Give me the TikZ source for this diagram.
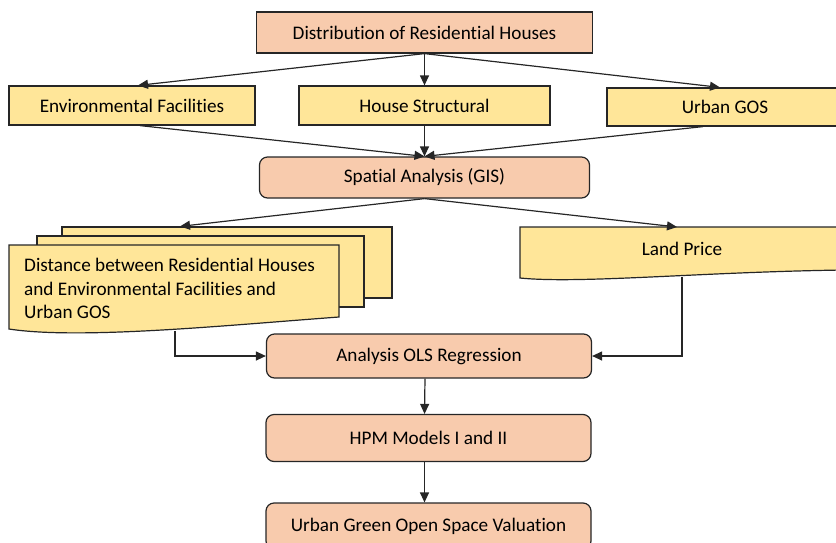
\documentclass[tikz,border=0pt]{standalone}
\usepackage{fontspec}
\setmainfont{Carlito}[Ligatures=NoCommon]
\usetikzlibrary{arrows.meta,positioning,calc}
\definecolor{peach}{HTML}{F8CBAD}
\definecolor{sand}{HTML}{FFE699}
\definecolor{edge}{HTML}{262626}
\begin{document}
\begin{tikzpicture}[x=1pt,y=-1pt,font=\fontsize{19.2}{23.5}\selectfont,box/.style={draw=edge,line width=1.2pt,fill=peach,minimum width=336pt,minimum height=41pt,inner sep=0pt},rbox/.style={box,rounded corners=8pt,minimum width=325pt},fbox/.style={box,fill=sand,minimum height=39pt},doc/.style={draw=edge,line width=1.2pt,fill=sand},link/.style={->,line width=1.2pt,draw=edge},>={Triangle[length=10pt,width=9pt]}]
\useasboundingbox (0,0) rectangle (836,542);
\node[box] (dist) at (424.5,32.5) {Distribution of Residential Houses};
\node[fbox,minimum width=246pt] (envfac) at (132,105.5) {Environmental Facilities};
\node[fbox,minimum width=251pt] (housestr) at (424.5,105.5) {House Structural};
\node[fbox,minimum width=236pt,minimum height=38pt] (urbangos) at (725,107) {Urban GOS};
\node[rbox,minimum width=330pt] (spatial) at (424.5,177.5) {Spatial Analysis (GIS)};
\node[fbox,minimum width=330pt,minimum height=71pt] (sheetback) at (227,262.5) {};
\node[fbox,minimum width=327pt,minimum height=71pt] (sheetmid) at (200.5,271.5) {};
\draw[doc] (9,245) -- (339,245) -- (339,317) .. controls (230,325) and (80,340) .. (9,329) -- cycle;
\node[anchor=north west,align=left,inner sep=0pt] (distance) at (24,258) {Distance between Residential Houses\\and Environmental Facilities and\\Urban GOS};
\coordinate (distout) at (175,331);
\draw[doc] (520,227) -- (844,227) -- (844,270) .. controls (700,272) and (580,284) .. (520,278) -- cycle;
\node (landprice) at (682,249) {Land Price};
\coordinate (lpin) at (677,227);
\coordinate (lpout) at (682,277);
\node[rbox,minimum height=44pt] (ols) at (429,356) {Analysis OLS Regression};
\node[rbox,minimum height=47pt] (hpm) at (428.5,438) {HPM Models I and II};
\node[rbox,minimum height=46pt] (valuation) at (428.5,526) {Urban Green Open Space Valuation};
\draw[link] (dist.south) -- ([xshift=6pt]envfac.north);
\draw[link] (dist.south) -- (housestr.north);
\draw[link] (dist.south) -- ([xshift=-5pt]urbangos.north);
\draw[link] ([xshift=8pt]envfac.south) -- (spatial.north);
\draw[link] (housestr.south) -- (spatial.north);
\draw[link] ([xshift=-22pt]urbangos.south) -- (spatial.north);
\draw[link] (spatial.south) -- ([xshift=-47pt]sheetback.north);
\draw[link] (spatial.south) -- (lpin);
\draw[link] (distout) |- (ols.west);
\draw[link] (lpout) |- (ols.east);
\draw[link] ([xshift=-4pt]ols.south) -- ([xshift=-4pt]hpm.north);
\draw[link] ([xshift=-4pt]hpm.south) -- ([xshift=-4pt]valuation.north);
\end{tikzpicture}
\end{document}
